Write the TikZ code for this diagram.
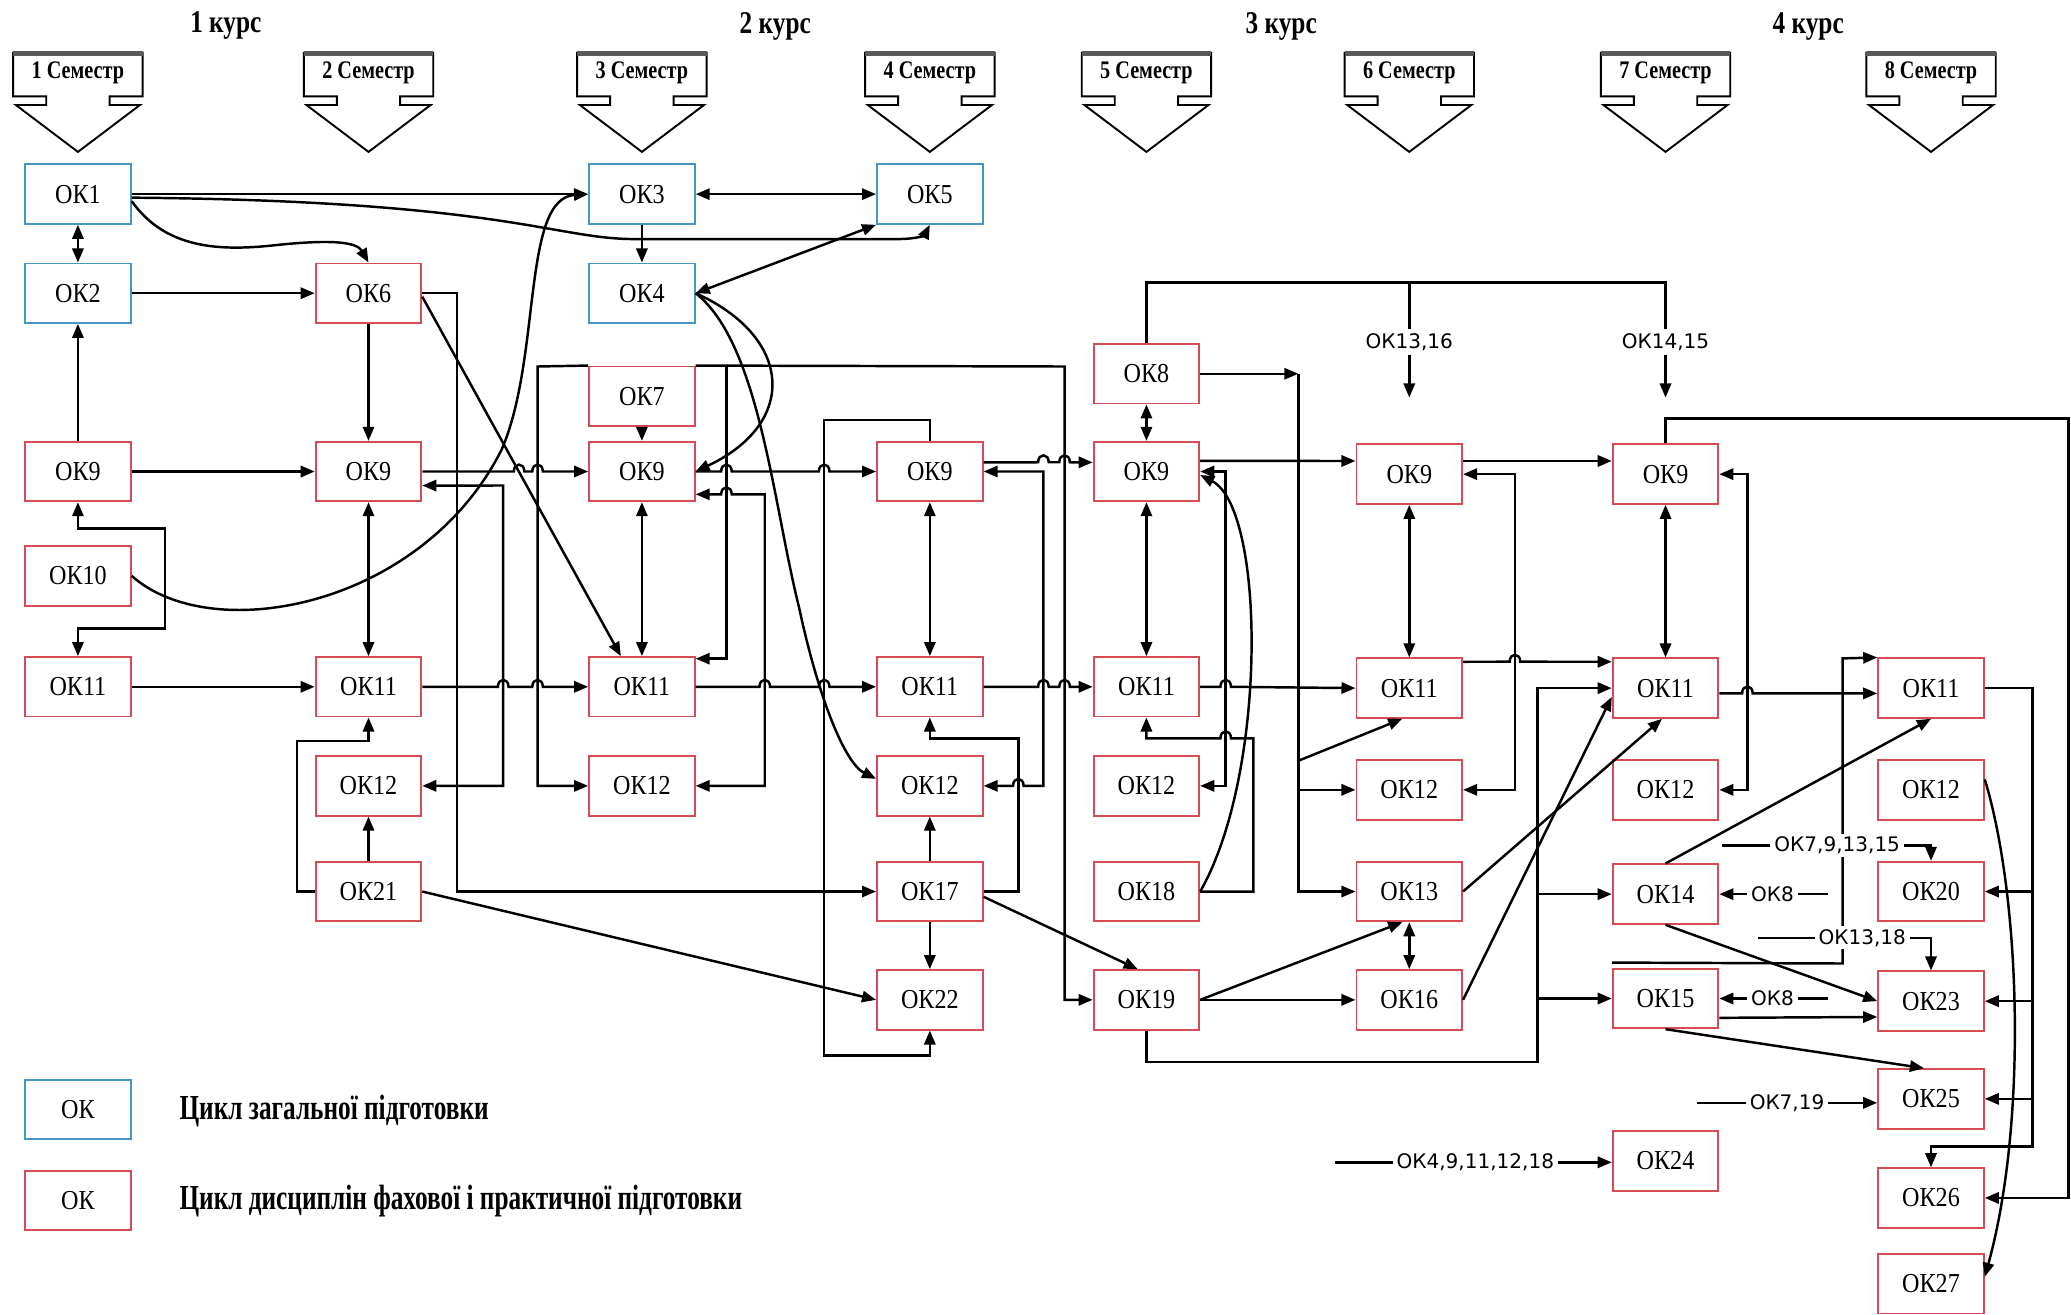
\documentclass[tikz,border=0pt]{standalone}
\usepackage{fontspec}
\setmainfont{Liberation Serif}
\newfontfamily\condfont[FakeStretch=0.8]{Liberation Serif}
\newfontfamily\legfont[FakeStretch=0.72]{Liberation Serif}
\newfontfamily\boxfont[FakeStretch=0.88]{Liberation Serif}
\newfontfamily\lblfont{DejaVu Sans}
\usetikzlibrary{arrows.meta,calc}
\definecolor{okblue}{RGB}{70,150,195}
\definecolor{okred}{RGB}{215,75,85}
\newcommand{\semarrow}[3]{%
  \draw[semline] (#1-49,40) -- (#1+49,40) -- (#1+49,73) -- (#1+24,73) -- (#1+24,79.5) -- (#1+47,79.5) -- (#1,115) -- (#1-47,79.5) -- (#1-24,79.5) -- (#1-24,73) -- (#1-49,73) -- cycle;
  \draw[line width=1.3pt, black!65] (#1-49,40.6) -- (#1+49,40.6);
  \node[semtxt] (#2) at (#1,55) {#3};}
\begin{document}
\begin{tikzpicture}[x=0.013208cm,y=-0.013208cm, line width=0.7pt,
  okbox/.style={draw, line width=0.55pt, fill=white, minimum width=1.0566cm, minimum height=0.5944cm, inner sep=0pt, font=\boxfont\fontsize{7.8}{8}\selectfont},
  okb/.style={okbox, draw=okblue},
  okr/.style={okbox, draw=okred},
  arr/.style={-{Triangle[length=4pt,width=3.2pt]}},
  darr/.style={{Triangle[length=4pt,width=3.2pt]}-{Triangle[length=4pt,width=3.2pt]}},
  lbl/.style={fill=white, inner sep=0.8pt, font=\lblfont\fontsize{5.7}{6}\selectfont},
  semtxt/.style={font=\condfont\bfseries\fontsize{7.2}{8}\selectfont, inner sep=0pt},
  course/.style={font=\condfont\bfseries\fontsize{9}{10}\selectfont, inner sep=0pt},
  legtxt/.style={font=\legfont\bfseries\fontsize{10}{11}\selectfont, anchor=west, inner sep=0pt},
  semline/.style={draw, line width=0.55pt, fill=white}
]
\fill[white] (0,0) rectangle (1568,995.6);
\useasboundingbox (0,0) rectangle (1568,995.6);

% course labels
\node[course] (k1) at (171,19) {1 курс};
\node[course] (k2) at (587,20) {2 курс};
\node[course] (k3) at (970,20) {3 курс};
\node[course] (k4) at (1369,20) {4 курс};

% semesters
\semarrow{59}{s1}{1 Семестр}
\semarrow{279}{s2}{2 Семестр}
\semarrow{486}{s3}{3 Семестр}
\semarrow{704}{s4}{4 Семестр}
\semarrow{868}{s5}{5 Семестр}
\semarrow{1067}{s6}{6 Семестр}
\semarrow{1261}{s7}{7 Семестр}
\semarrow{1462}{s8}{8 Семестр}

% nodes
\node[okb] (ok1) at (59,147) {ОК1};
\node[okb] (ok2) at (59,222) {ОК2};
\node[okr] (a9) at (59,357) {ОК9};
\node[okr] (ok10) at (59,436) {ОК10};
\node[okr] (a11) at (59,520) {ОК11};
\node[okr] (ok6) at (279,222) {ОК6};
\node[okr] (b9) at (279,357) {ОК9};
\node[okr] (b11) at (279,520) {ОК11};
\node[okr] (b12) at (279,595) {ОК12};
\node[okr] (ok21) at (279,675) {ОК21};
\node[okb] (ok3) at (486,147) {ОК3};
\node[okb] (ok4) at (486,222) {ОК4};
\node[okr] (ok7) at (486,300) {ОК7};
\node[okr] (c9) at (486,357) {ОК9};
\node[okr] (c11) at (486,520) {ОК11};
\node[okr] (c12) at (486,595) {ОК12};
\node[okb] (ok5) at (704,147) {ОК5};
\node[okr] (d9) at (704,357) {ОК9};
\node[okr] (d11) at (704,520) {ОК11};
\node[okr] (d12) at (704,595) {ОК12};
\node[okr] (ok17) at (704,675) {ОК17};
\node[okr] (ok22) at (704,757) {ОК22};
\node[okr] (ok8) at (868,283) {ОК8};
\node[okr] (e9) at (868,357) {ОК9};
\node[okr] (e11) at (868,520) {ОК11};
\node[okr] (e12) at (868,595) {ОК12};
\node[okr] (ok18) at (868,675) {ОК18};
\node[okr] (ok19) at (868,757) {ОК19};
\node[okr] (f9) at (1067,359) {ОК9};
\node[okr] (f11) at (1067,521) {ОК11};
\node[okr] (f12) at (1067,598) {ОК12};
\node[okr] (ok13) at (1067,675) {ОК13};
\node[okr] (ok16) at (1067,757) {ОК16};
\node[okr] (g9) at (1261,359) {ОК9};
\node[okr] (g11) at (1261,521) {ОК11};
\node[okr] (g12) at (1261,598) {ОК12};
\node[okr] (ok14) at (1261,677) {ОК14};
\node[okr] (ok15) at (1261,756) {ОК15};
\node[okr] (ok24) at (1261,879) {ОК24};
\node[okr] (h11) at (1462,521) {ОК11};
\node[okr] (h12) at (1462,598) {ОК12};
\node[okr] (ok20) at (1462,675) {ОК20};
\node[okr] (ok23) at (1462,758) {ОК23};
\node[okr] (ok25) at (1462,832) {ОК25};
\node[okr] (ok26) at (1462,907) {ОК26};
\node[okr] (ok27) at (1462,972) {ОК27};

% ---- top area
\draw[arr] (ok1.east) -- (ok3.west);
\draw[arr] ([yshift=-1pt]ok1.east) .. controls (380,152) and (420,181) .. (480,181) -- (680,181) .. controls (694,181) and (700,178) .. (ok5.south);
\draw[arr] ([yshift=-2pt]ok1.east) .. controls (125,188) and (165,190) .. (205,186) .. controls (250,181) and (270,183) .. (ok6.north);
\draw[darr] (ok1) -- (ok2);
\draw[arr] (ok2) -- (ok6);
\draw[arr] (a9) -- (ok2);
\draw[arr] (a9) -- (b9);
\draw[arr] (ok6) -- (b9);
\draw[darr] (ok3) -- (ok5);
\draw[arr] (ok3) -- (ok4);
\draw[darr] (ok4.east) -- (ok5.south west);
\draw[arr] (ok10.east) .. controls (160,490) and (320,460) .. (380,340) .. controls (410,270) and (395,150) .. (ok3.west);
\draw[arr] (ok4.east) .. controls (600,255) and (605,320) .. (c9.east);
\draw[arr] (ok4.east) .. controls (575,260) and (585,380) .. (605,460) .. controls (620,530) and (640,578) .. ([yshift=2pt]d12.west);

% ---- column 2
\draw[arr] ([yshift=-1pt]ok6.east) -- ([xshift=-6pt]c11.north);
\draw[arr] (ok6.east) -- (346,222) -- (346,675) -- (ok17.west);
\draw[darr] (b9) -- (b11);
\draw[arr] (a11) -- (b11);
\draw[darr] (a9.south) -- (59,400) -- (125,400) -- (125,476) -- (59,476) -- (a11.north);
\draw[arr] (ok21) -- (b12);
\draw[arr] (ok21.west) -- (225,675) -- (225,561) -- (279,561) -- (b11.south);
\draw[arr] (ok21.east) -- (ok22.west);
\draw[darr] ([yshift=-4pt]b9.east) -- (381,367.6) -- (381,595) -- (b12.east);
\draw[arr] (b9.east) -- (389,357) .. controls (389,350) and (397,350) .. (397,357) -- (403,357) .. controls (403,350) and (411,350) .. (411,357) -- (c9.west);
\draw[arr] (b11.east) -- (377,520) .. controls (377,513) and (385,513) .. (385,520) -- (403,520) .. controls (403,513) and (411,513) .. (411,520) -- (c11.west);

% ---- column 3
\draw[arr] (ok7) -- (c9);
\draw[darr] (c9) -- (c11);
\draw[arr] (ok7.north west) -- (407,277.5) -- (407,595) -- (c12.west);
\draw[arr] (ok7.north east) -- (806,277.5) -- (806,757) -- (ok19.west);
\draw[arr] (550,277.5) |- ([yshift=8pt]c11.east);
\draw[darr] ([yshift=-6.5pt]c9.east) -- (546,374.3) .. controls (546,367.3) and (554,367.3) .. (554,374.3) -- (579,374.3) -- (579,595) -- (c12.east);
\draw[arr] (c9.east) -- (546,357) .. controls (546,350) and (554,350) .. (554,357) -- (620,357) .. controls (620,350) and (628,350) .. (628,357) -- (d9.west);
\draw[arr] (c11.east) -- (575,520) .. controls (575,513) and (583,513) .. (583,520) -- (620,520) .. controls (620,513) and (628,513) .. (628,520) -- (d11.west);

% ---- column 4
\draw[darr] (d9) -- (d11);
\draw[arr] (ok17) -- (d12);
\draw[arr] (ok17) -- (ok22);
\draw[arr] (ok17.east) -- (771,675) -- (771,559) -- (704,559) -- (d11.south);
\draw[arr] ([yshift=-1.5pt]ok17.east) -- ([xshift=-2.5pt]ok19.north);
\draw[darr] (d9.east) -- (790,357) -- (790,595) -- (775,595) .. controls (775,588) and (767,588) .. (767,595) -- (d12.east);
\draw[arr] (d9.north) -- (704,318) -- (624,318) -- (624,799) -- (704,799) -- (ok22.south);
\draw[arr] ([yshift=2.6pt]d9.east) -- (786,350) .. controls (786,343) and (794,343) .. (794,350) -- (802,350) .. controls (802,343) and (810,343) .. (810,350) -- ([yshift=2.6pt]e9.west);
\draw[arr] (d11.east) -- (786,520) .. controls (786,513) and (794,513) .. (794,520) -- (802,520) .. controls (802,513) and (810,513) .. (810,520) -- (e11.west);

% ---- column 5
\draw[darr] (ok8) -- (e9);
\draw[arr] (ok8.east) -- (983,283);
\draw[arr] (983,283) -- (983,675) -- (ok13.west);
\draw[arr] (983,598) -- (f12.west);
\draw[arr] (983,576) -- ([xshift=-2pt]f11.south);
\draw[arr] ([yshift=3pt]e9.east) -- ([yshift=3.75pt]f9.west);
\draw[darr] (e9) -- (e11);
\draw[darr] (e9.east) -- (928,357) -- (928,595) -- (e12.east);
\draw[arr] (ok18.east) .. controls (960,585) and (958,385) .. ([yshift=-1pt]e9.east);
\draw[arr] (ok18.east) -- (949,675) -- (949,559) -- (932,559) .. controls (932,552) and (924,552) .. (924,559) -- (868,559) -- (e11.south);
\draw[arr] (e11.east) -- (924,520) .. controls (924,513) and (932,513) .. (932,520) -- (f11.west);

% ---- column 6
\draw[darr] (f9) -- (f11);
\draw[arr] ([yshift=3.75pt]f9.east) -- ([yshift=3.75pt]g9.west);
\draw[darr] (f9.east) -- (1147,359) -- (1147,598) -- (f12.east);
\draw[arr] ([yshift=7.5pt]f11.east) -- (1143,501) .. controls (1143,494) and (1151,494) .. (1151,501) -- ([yshift=7.5pt]g11.west);
\draw[darr] (ok13) -- (ok16);
\draw[arr] (ok19.east) -- ([xshift=-2pt]ok13.south);
\draw[arr] (ok19) -- (ok16);
\draw[arr] (ok19.south) -- (868,804) -- (1164,804) -- (1164,521) -- (g11.west);
\draw[arr] (1164,677) -- (ok14.west);
\draw[arr] (1164,756) -- (ok15.west);
\draw[arr] (ok13.east) -- ([xshift=-1pt]g11.south);
\draw[arr] (ok16.east) -- ([yshift=-2.5pt]g11.west);

% ---- column 7
\draw[darr] (g9) -- (g11);
\draw[darr] (g9.east) -- (1323,359) -- (1323,598) -- (g12.east);
\draw[arr] ([yshift=-1.5pt]g11.east) -- (1319,525) .. controls (1319,518) and (1327,518) .. (1327,525) -- ([yshift=-1.5pt]h11.west);
\draw[arr] (g9.north) -- (1261,317) -- (1566,317) -- (1566,907) -- (ok26.east);
\draw[arr] (ok14.north) -- (h11.south);
\draw[arr] (ok14.south) -- (ok23.west);
\draw[arr] ([yshift=-5.5pt]ok15.east) -- ([yshift=-4.5pt]ok23.west);
\draw[arr] (ok15.south) -- ([xshift=-2pt]ok25.north);
\draw[arr] ([yshift=1.5pt]ok15.north west) -- (1395,729.5) -- (1395,498.5) -- (h11.north west);

% ---- column 8
\draw[arr] (h11.east) -- (1539,521) -- (1539,868) -- (1462,868) -- (ok26.north);
\draw[arr] (1539,675) -- (ok20.east);
\draw[arr] (1539,758) -- (ok23.east);
\draw[arr] (1539,832) -- (ok25.east);
\draw[arr] ([yshift=3pt]h12.east) .. controls (1530,680) and (1535,850) .. ([yshift=2pt]ok27.east);

% ---- labels
\node[lbl] (l1316) at (1067,259) {ОК13,16};
\node[lbl] (l1415) at (1261,259) {ОК14,15};
\node[lbl] (l8a) at (1342,677) {ОК8};
\node[lbl] (l8b) at (1342,756) {ОК8};
\node[lbl] (l7913) at (1391,640) {ОК7,9,13,15};
\node[lbl] (l1318) at (1410,710) {ОК13,18};
\node[lbl] (l719) at (1353,835) {ОК7,19};
\node[lbl] (l4) at (1117,880) {ОК4,9,11,12,18};
\coordinate (t1316) at (1067,301);
\coordinate (t1415) at (1261,301);
\coordinate (s8a) at (1384,677);
\coordinate (s8b) at (1384,756);
\coordinate (s7913) at (1304,640);
\coordinate (s1318) at (1331,710);
\coordinate (s719) at (1285,835);
\coordinate (s4) at (1011,880);
\draw (ok8.north) -- (868,214) -- (1261,214) -- (l1415.north);
\draw (1067,214) -- (l1316.north);
\draw[arr] (l1316.south) -- (t1316);
\draw[arr] (l1415.south) -- (t1415);
\draw (s8a) -- (l8a.east);
\draw[arr] (l8a.west) -- (ok14.east);
\draw (s8b) -- (l8b.east);
\draw[arr] (l8b.west) -- (ok15.east);
\draw (s7913) -- (l7913.west);
\draw[arr] (l7913.east) -- (1462,640) -- (ok20.north);
\draw (s1318) -- (l1318.west);
\draw[arr] (l1318.east) -- (1462,710) -- (ok23.north);
\draw (s719) -- (l719.west);
\draw[arr] (l719.east) -- (ok25.west |- l719.east);
\draw (s4) -- (l4.west);
\draw[arr] (l4.east) -- (ok24.west |- l4.east);

% ---- legend
\node[okb] (lg1) at (59,840) {ОК};
\node[legtxt] (lg1t) at (135,841) {Цикл загальної підготовки};
\node[okr] (lg2) at (59,909) {ОК};
\node[legtxt] (lg2t) at (135,909) {Цикл дисциплін фахової і практичної підготовки};
\end{tikzpicture}
\end{document}
